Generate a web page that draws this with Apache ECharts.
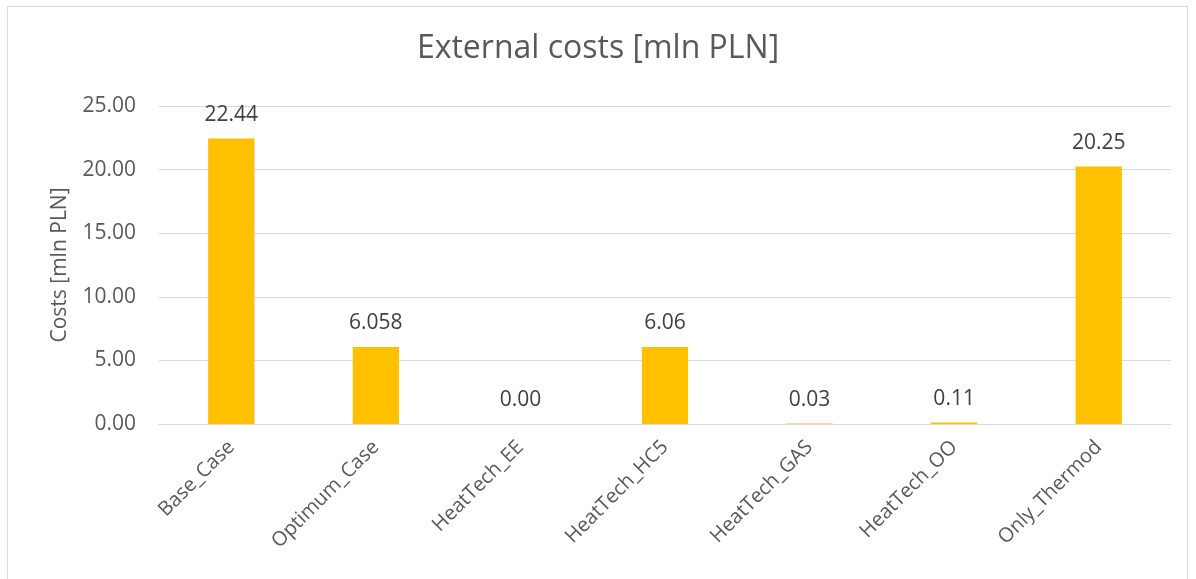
<!DOCTYPE html>
<html>
<head>
<meta charset="utf-8">
<script src="https://cdn.jsdelivr.net/npm/echarts@6/dist/echarts.min.js"></script>
<style>
  html, body { margin: 0; padding: 0; background: #fff; }
  .frame {
    position: absolute; left: 7px; top: 6px; width: 1181px; height: 600px;
    border: 1px solid #d9d9d9; box-sizing: border-box;
  }
  #chart { position: absolute; left: 0; top: 0; width: 1196px; height: 579px; }
</style>
</head>
<body>
<div class="frame"></div>
<div id="chart"></div>
<script>
// chart data
const categories = ["Base_Case", "Optimum_Case", "HeatTech_EE", "HeatTech_HC5", "HeatTech_GAS", "HeatTech_OO", "Only_Thermod"];
const costs = [22.44, 6.058, 0.0, 6.06, 0.03, 0.11, 20.25];
// decimals shown in each data label
const labelDecimals = [2, 3, 2, 2, 2, 2, 2];
const yTicks = { min: 0, max: 25, interval: 5 };

const font = "'Open Sans', 'Noto Sans', sans-serif";
const myChart = echarts.init(document.getElementById("chart"));

const option = {
  backgroundColor: "transparent",
  animation: false,
  title: {
    text: "External costs [mln PLN]",
    left: "center",
    top: 28,
    textStyle: { color: "#595959", fontSize: 32, fontWeight: "normal", fontFamily: font },
  },
  grid: { left: 159, right: 25, top: 106, bottom: 155, containLabel: false },
  xAxis: {
    type: "category",
    data: categories,
    axisLine: { show: true, lineStyle: { color: "#d9d9d9", width: 1 } },
    axisTick: { show: false },
    axisLabel: {
      rotate: 45,
      margin: 20,
      interval: 0,
      color: "#595959",
      fontSize: 20,
      fontFamily: font,
    },
  },
  yAxis: {
    type: "value",
    min: yTicks.min,
    max: yTicks.max,
    interval: yTicks.interval,
    name: "Costs [mln PLN]",
    nameLocation: "middle",
    nameGap: 88,
    nameTextStyle: { color: "#595959", fontSize: 21, fontFamily: font },
    axisLine: { show: false },
    axisTick: { show: false },
    splitLine: { show: true, lineStyle: { color: "#d9d9d9", width: 1 } },
    axisLabel: {
      margin: 23,
      color: "#595959",
      fontSize: 21,
      fontFamily: font,
      formatter: (v) => v.toFixed(2),
    },
  },
  series: [
    {
      name: "External costs",
      type: "bar",
      data: costs,
      barWidth: "32%",
      itemStyle: { color: "#FFC000" },
      label: {
        show: true,
        position: "top",
        distance: 13,
        color: "#404040",
        fontSize: 21,
        fontFamily: font,
        formatter: (p) => p.value.toFixed(labelDecimals[p.dataIndex]),
      },
    },
  ],
};

myChart.setOption(option);
</script>
</body>
</html>
